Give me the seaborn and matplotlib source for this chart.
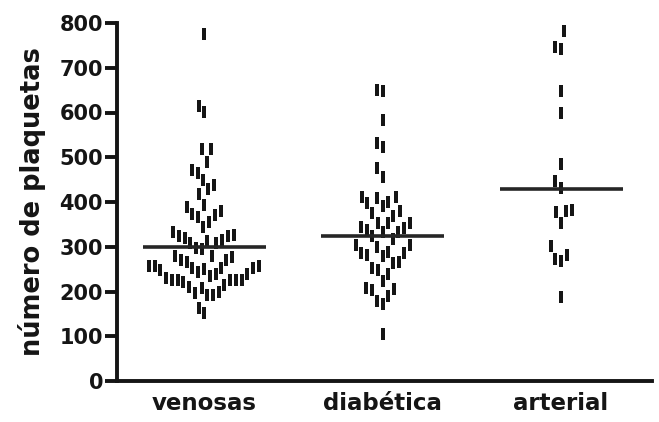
import numpy as np
import pandas as pd
import matplotlib
matplotlib.use("Agg")
import matplotlib.pyplot as plt
import seaborn as sns

# ---------------- data ----------------
categories = ["venosas", "diabética", "arterial"]
venosas = [775, 614, 601, 518, 518, 489, 471, 464, 450, 428, 439, 417, 394, 388,
           379, 370, 356, 367, 374, 345, 332, 325, 327, 320, 316, 323, 312, 309,
           309, 298, 294, 280, 280, 267, 271, 276, 271, 256, 258, 253, 258, 253,
           249, 253, 251, 244, 238, 238, 235, 226, 226, 226, 231, 226, 222, 226,
           215, 208, 211, 193, 199, 197, 193, 164, 152]
diabetica = [650, 648, 583, 531, 522, 475, 455, 412, 401, 412, 410, 397, 390, 379,
             376, 368, 354, 354, 354, 345, 343, 338, 334, 323, 318, 332, 305, 300,
             305, 287, 287, 280, 282, 289, 267, 264, 253, 247, 238, 224, 206, 208,
             204, 190, 179, 172, 105]
arterial = [782, 742, 746, 648, 600, 484, 446, 432, 383, 377, 380, 354, 302, 273,
            269, 282, 188]
medians = [300, 323, 430]
yticks = [0, 100, 200, 300, 400, 500, 600, 700, 800]

# ---------------- setup ----------------
sns.set_theme(style="ticks")
plt.rcParams["font.family"] = ["DejaVu Sans"]
plt.rcParams["font.weight"] = "bold"

df = pd.DataFrame({
    "grupo": ([categories[0]] * len(venosas) + [categories[1]] * len(diabetica)
              + [categories[2]] * len(arterial)),
    "valor": venosas + diabetica + arterial,
})

W, H, DPI = 6.59, 4.22, 100
ax_rect = [117 / 659, 1 - 381 / 422, (652 - 117) / 659, (381 - 23) / 422]
XLIM = (-0.49, 2.51)
INK = "#151515"

# swarm layout computed by seaborn in a vertically squashed helper axes,
# so that the collision shape behaves like GraphPad's narrow/tall columns
squash = 3.8
hfig = plt.figure(figsize=(W, H), dpi=DPI)
hax = hfig.add_axes([ax_rect[0], 0.05, ax_rect[2], ax_rect[3] / squash])
sns.swarmplot(data=df, x="grupo", y="valor", order=categories, size=4.0,
              linewidth=0, ax=hax, warn_thresh=1)
hax.set_xlim(*XLIM)
hax.set_ylim(0, 800)
hfig.canvas.draw()
pos = np.vstack([c.get_offsets() for c in hax.collections if len(c.get_offsets())])
plt.close(hfig)

swarm = pd.DataFrame({"x": pos[:, 0], "valor": pos[:, 1]})

# ---------------- main figure ----------------
fig = plt.figure(figsize=(W, H), dpi=DPI)
ax = fig.add_axes(ax_rect)

dash = [(-0.2, -0.5), (0.2, -0.5), (0.2, 0.5), (-0.2, 0.5)]
sns.scatterplot(data=swarm, x="x", y="valor", marker=dash, s=64, color=INK,
                linewidth=0, ax=ax, clip_on=False, zorder=2, legend=False)

idx = np.arange(len(categories))
ax.hlines(medians, idx - 0.345, idx + 0.345, color="#262626", lw=2.6, zorder=3)

ax.set_xlim(*XLIM)
ax.set_ylim(0, 800)
ax.set_yticks(yticks)
ax.set_yticklabels([str(t) for t in yticks], fontsize=15, fontweight="bold")
ax.set_xticks(idx)
ax.set_xticklabels(categories, fontsize=16.5, fontweight="bold")
ax.set_xlabel("")
ax.set_ylabel("número de plaquetas", fontsize=18.5, fontweight="bold", labelpad=10,
              color=INK)

for s in ["top", "right"]:
    ax.spines[s].set_visible(False)
for s in ["left", "bottom"]:
    ax.spines[s].set_linewidth(2.8)
    ax.spines[s].set_color(INK)
ax.tick_params(axis="y", length=9, width=2.8, pad=1, colors=INK)
ax.tick_params(axis="x", length=0, pad=8, colors=INK)
ax.set_facecolor("white")
fig.patch.set_facecolor("white")

fig.savefig("out.png", dpi=DPI)
